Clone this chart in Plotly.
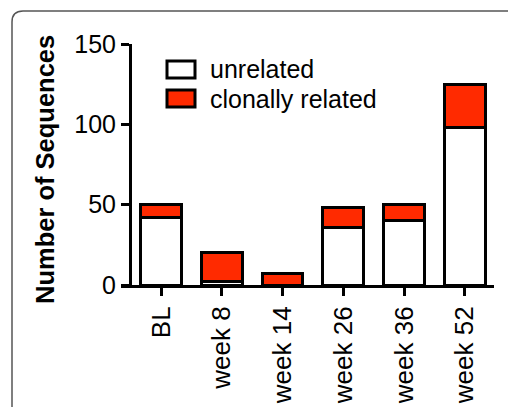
import plotly.graph_objects as go

# Sequence counts per time point
timepoints = ["BL", "week 8", "week 14", "week 26", "week 36", "week 52"]
unrelated = [42, 2, 0, 36, 40, 98]
clonally_related = [8, 18, 7, 12, 10, 27]
series_names = ["unrelated", "clonally related"]
series_colors = ["#ffffff", "#ff2a00"]
y_ticks = [0, 50, 100, 150]

W, H = 508, 407
L, R, T, B = 121, 14, 44, 122
PW, PH = W - L - R, H - T - B
FONT = "Liberation Sans, Arial, Helvetica, sans-serif"


def px_x(x):
    return (x - L) / PW


def px_y(y):
    return (H - B - y) / PH


fig = go.Figure()
for name, vals, col in zip(series_names, [unrelated, clonally_related], series_colors):
    fig.add_trace(go.Bar(
        x=timepoints, y=vals, name=name, width=0.67,
        marker=dict(color=col, line=dict(color="black", width=3)),
        showlegend=False,
    ))

shapes = []
annotations = []

# legend drawn as boxes with labels
for i, (name, col) in enumerate(zip(series_names, series_colors)):
    y0 = 61 + i * 29
    shapes.append(dict(type="rect", xref="paper", yref="paper",
                       x0=px_x(167), x1=px_x(195), y0=px_y(y0), y1=px_y(y0 + 17),
                       fillcolor=col, line=dict(color="black", width=3)))
    annotations.append(dict(text=name, xref="paper", yref="paper",
                            x=px_x(208), y=px_y(y0 + 8.5), xanchor="left", yanchor="middle",
                            showarrow=False, font=dict(size=25, color="black", family=FONT)))

# axis title
annotations.append(dict(text="<b>Number of Sequences</b>", xref="paper", yref="paper",
                        x=px_x(45), y=px_y(170), textangle=-90, showarrow=False,
                        xanchor="center", yanchor="middle",
                        font=dict(size=25.5, color="black", family=FONT)))

# rounded frame around the panel
fx0, fy0, rad = 12, 11, 11
fx1, fy1 = 530, 430
path = (f"M {px_x(fx0)},{px_y(fy1)} L {px_x(fx0)},{px_y(fy0 + rad)} "
        f"Q {px_x(fx0)},{px_y(fy0)} {px_x(fx0 + rad)},{px_y(fy0)} "
        f"L {px_x(fx1)},{px_y(fy0)}")
shapes.append(dict(type="path", xref="paper", yref="paper", path=path,
                   line=dict(color="#555555", width=1.5)))

fig.update_layout(
    barmode="stack",
    width=W, height=H,
    margin=dict(l=L, r=R, t=T, b=B),
    paper_bgcolor="white", plot_bgcolor="white",
    font=dict(family=FONT, size=26, color="black"),
    shapes=shapes, annotations=annotations,
    xaxis=dict(range=[-0.66, 5.48], showline=True, linecolor="black", linewidth=3,
               ticks="outside", ticklen=8, tickwidth=3, tickcolor="black",
               tickangle=-90, showgrid=False, zeroline=False, automargin=False,
               tickfont=dict(size=26, family=FONT, color="black")),
    yaxis=dict(range=[0, 150], tickvals=y_ticks, anchor="free", position=px_x(130),
               showline=True, linecolor="black", linewidth=3,
               ticks="outside", ticklen=8, tickwidth=3, tickcolor="black",
               showgrid=False, zeroline=False, automargin=False,
               tickfont=dict(size=25, family=FONT, color="black")),
)

fig.write_html("out.html")
